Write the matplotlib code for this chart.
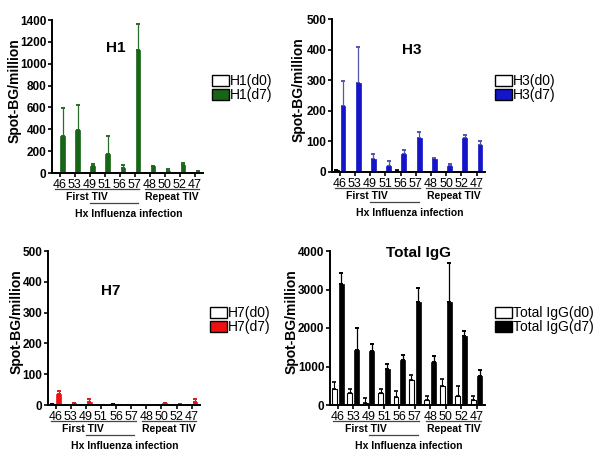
import matplotlib
matplotlib.use("Agg")
import matplotlib.pyplot as plt
from matplotlib.patches import Patch
import numpy as np

plt.rcParams['font.family'] = ['Liberation Sans', 'DejaVu Sans']

donors = ['46', '53', '49', '51', '56', '57', '48', '50', '52', '47']

# mean values and top of error bar
h1_d0 = [0, 0, 0, 0, 0, 0, 0, 0, 0, 0]
h1_d0_top = [0, 0, 0, 0, 0, 0, 0, 0, 0, 0]
h1_d7 = [335, 396, 61, 176, 49, 1126, 64, 15, 76, 9]
h1_d7_top = [593, 618, 85, 335, 73, 1360, 67, 40, 94, 15]

h3_d0 = [5, 0, 0, 0, 3, 0, 0, 0, 0, 0]
h3_d0_top = [8, 0, 0, 0, 7, 0, 0, 0, 0, 0]
h3_d7 = [217, 292, 43, 18, 60, 110, 41, 18, 110, 89]
h3_d7_top = [296, 410, 60, 35, 72, 130, 46, 27, 120, 101]

h7_d0 = [3, 0, 0, 0, 3, 0, 0, 0, 0, 0]
h7_d0_top = [3, 0, 0, 0, 3, 0, 0, 0, 0, 0]
h7_d7 = [35, 5, 10, 0, 0, 0, 0, 5, 2, 10]
h7_d7_top = [45, 6, 20, 0, 0, 0, 0, 6, 3, 20]

igg_d0 = [417, 304, 43, 304, 217, 661, 130, 504, 235, 139]
igg_d0_top = [591, 417, 174, 409, 374, 783, 235, 670, 504, 243]
igg_d7 = [3148, 1435, 1409, 930, 1157, 2678, 1104, 2678, 1783, 757]
igg_d7_top = [3435, 2000, 1583, 1070, 1304, 3026, 1261, 3696, 1913, 913]

W, H = 602, 467
fig = plt.figure(figsize=(W / 100, H / 100), dpi=100)


def px_axes(left, top, right, bottom):
    return fig.add_axes([left / W, 1 - bottom / H, (right - left) / W, (bottom - top) / H])


def panel(ax, title, title_xy, d0, d0_top, d7, d7_top, color, ecolor, ymax, ystep,
          leg_xy, name, ylab_x):
    x = np.arange(len(donors))
    bw = 0.32
    off = 0.22
    d0 = np.array(d0, float)
    d7 = np.array(d7, float)
    e0 = np.array(d0_top, float) - d0
    e7 = np.array(d7_top, float) - d7
    ax.bar(x - off, d0, bw, color='white', edgecolor='black', linewidth=0.8, zorder=2)
    ax.bar(x + off, d7, bw, color=color, edgecolor=color, linewidth=0.5, zorder=2)
    ax.errorbar(x - off, d0, yerr=[np.zeros_like(e0), e0], fmt='none', ecolor='black',
                elinewidth=0.8, capsize=1.5, capthick=1.2, zorder=1)
    ax.errorbar(x + off, d7, yerr=[np.zeros_like(e7), e7], fmt='none', ecolor=ecolor,
                elinewidth=0.9, capsize=1.5, capthick=1.4, zorder=1)

    ax.set_xlim(-0.5, 9.55)
    ax.set_ylim(0, ymax)
    ax.set_yticks(np.arange(0, ymax + 1, ystep))
    ax.set_xticks(x)
    ax.set_xticklabels(donors, fontsize=9)
    for s in ['top', 'right']:
        ax.spines[s].set_visible(False)
    for s in ['left', 'bottom']:
        ax.spines[s].set_linewidth(1.4)
    ax.tick_params(axis='y', labelsize=8.5, width=1.2, length=3, pad=1)
    ax.tick_params(axis='x', width=1.2, length=3, pad=1)
    for lab in ax.get_yticklabels():
        lab.set_fontweight('bold')

    ax.set_ylabel('Spot-BG/million', fontsize=10, fontweight='bold')
    ax.yaxis.set_label_coords(ylab_x, 0.54)

    ax.text(title_xy[0], title_xy[1], title, transform=ax.transAxes, fontsize=11,
            fontweight='bold', ha='center', va='center')

    tr = ax.get_xaxis_transform()
    ax.plot([-0.3, 5.3], [-0.105, -0.105], color='#444444', lw=0.9, transform=tr, clip_on=False)
    ax.plot([5.7, 9.3], [-0.105, -0.105], color='#444444', lw=0.9, transform=tr, clip_on=False)
    ax.plot([2.0, 5.2], [-0.195, -0.195], color='#444444', lw=0.9, transform=tr, clip_on=False)
    ax.text(1.8, -0.155, 'First TIV', transform=tr, fontsize=7.5, fontweight='bold',
            ha='center', va='center')
    ax.text(7.5, -0.155, 'Repeat TIV', transform=tr, fontsize=7.5, fontweight='bold',
            ha='center', va='center')
    ax.text(4.6, -0.265, 'Hx Influenza infection', transform=tr, fontsize=7.5,
            fontweight='bold', ha='center', va='center')

    handles = [Patch(facecolor='white', edgecolor='black', linewidth=1.0),
               Patch(facecolor=color, edgecolor='black', linewidth=1.0)]
    fig.legend(handles, [name + '(d0)', name + '(d7)'], loc='upper left',
               bbox_to_anchor=(leg_xy[0] / W, 1 - leg_xy[1] / H), frameon=False,
               fontsize=10, handlelength=1.2, handleheight=0.85, labelspacing=0,
               handletextpad=0.1, borderpad=0, borderaxespad=0)


ax1 = px_axes(52, 20, 203, 173)
panel(ax1, 'H1', (0.42, 0.82), h1_d0, h1_d0_top, h1_d7, h1_d7_top, '#176617', '#2a6a2a',
      1400, 200, (212, 74), 'H1', -0.2)

ax2 = px_axes(332, 19, 485, 172)
panel(ax2, 'H3', (0.52, 0.8), h3_d0, h3_d0_top, h3_d7, h3_d7_top, '#1414c8', '#5555aa',
      500, 100, (495, 74), 'H3', -0.17)

ax3 = px_axes(48, 251, 200, 405)
panel(ax3, 'H7', (0.41, 0.74), h7_d0, h7_d0_top, h7_d7, h7_d7_top, '#f01010', '#d02020',
      500, 100, (210, 306), 'H7', -0.16)

ax4 = px_axes(330, 251, 485, 405)
panel(ax4, 'Total IgG', (0.57, 0.99), igg_d0, igg_d0_top, igg_d7, igg_d7_top, '#000000',
      '#000000', 4000, 1000, (495, 306), 'Total IgG', -0.2)

fig.savefig('out.png', dpi=100)
